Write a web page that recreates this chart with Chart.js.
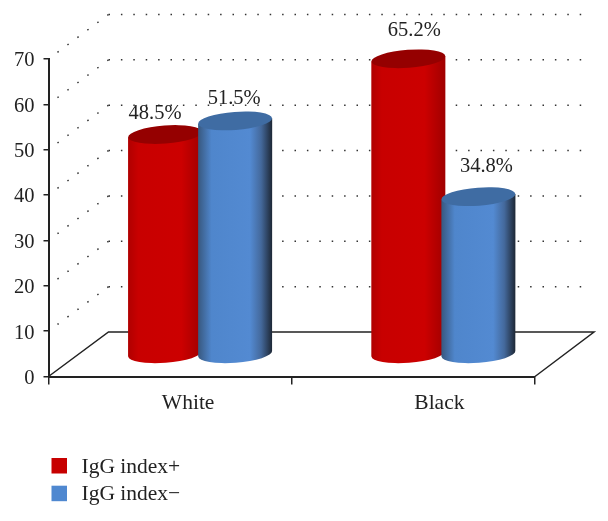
<!DOCTYPE html>
<html>
<head>
<meta charset="utf-8">
<style>
  html, body { margin: 0; padding: 0; background: #fff; }
  canvas { display: block; }
</style>
<script src="https://cdn.jsdelivr.net/npm/chart.js@4"></script>
</head>
<body>
<canvas id="chart" width="608" height="521"></canvas>
<script>
var categories = ["White", "Black"];
var seriesNames = ["IgG index+", "IgG index\u2212"];
var positiveValues = [48.5, 65.2];
var negativeValues = [51.5, 34.8];
var tickValues = [0, 10, 20, 30, 40, 50, 60, 70];

var FONT = "'Liberation Serif', serif";
var TEXT = "#222";
var DEPTH_X = 60, DEPTH_Y = 44.5;  // back wall offset
var BAR_X = 30, BAR_Y = 22;        // bars stand mid way on the floor
var RY = 9, TILT = -0.075;

var looks = [
  { swatch: "#c70000", top: "#950000", stops: [[0, "#b00000"], [0.14, "#c80000"], [0.72, "#cc0000"], [1, "#a00000"]] },
  { swatch: "#4f88d0", top: "#3f6ca3", stops: [[0, "#38587f"], [0.18, "#4f86cc"], [0.7, "#538ad2"], [0.85, "#44699c"], [1, "#1d2735"]] }
];
// label shift from the bar's top, [series][category]
var labelShift = [[[-10, -21], [6, -28]], [[-1, -22], [8, -30]]];
var xLabelShift = [18, 26];

function drawFrame(chart) {
  var c = chart.ctx, y = chart.scales.y, a = chart.chartArea;
  c.save();
  c.lineWidth = 1.5;
  c.strokeStyle = "#333";
  c.setLineDash([1.5, 10.9]);
  tickValues.forEach(function (v) {
    if (v === 0) return;
    var py = y.getPixelForValue(v);
    c.beginPath();
    c.moveTo(a.left + DEPTH_X, py - DEPTH_Y);
    c.lineTo(a.right + 52, py - DEPTH_Y);
    c.stroke();
    c.beginPath();
    c.moveTo(a.left + DEPTH_X, py - DEPTH_Y);
    c.lineTo(a.left + 8, py - 6);
    c.stroke();
  });
  c.setLineDash([]);
  // floor
  c.lineWidth = 1.5;
  c.strokeStyle = "#222";
  c.beginPath();
  c.moveTo(a.left, a.bottom);
  c.lineTo(a.left + DEPTH_X, a.bottom - DEPTH_Y);
  c.lineTo(a.right + DEPTH_X - 1, a.bottom - DEPTH_Y);
  c.lineTo(a.right, a.bottom);
  c.stroke();
  c.restore();
}

function drawCylinder(c, el, look) {
  var cx = el.x + BAR_X, top = el.y - BAR_Y, base = el.base - BAR_Y;
  var rx = el.width / 2;
  var g = c.createLinearGradient(cx - rx, 0, cx + rx, 0);
  look.stops.forEach(function (s) { g.addColorStop(s[0], s[1]); });
  var dy = Math.sin(TILT) * rx;
  c.beginPath();
  c.moveTo(cx - rx, top - dy);
  c.lineTo(cx - rx, base - dy);
  c.ellipse(cx, base, rx, RY, TILT, Math.PI, 0, true);
  c.lineTo(cx + rx, top + dy);
  c.closePath();
  c.fillStyle = g;
  c.fill();
  c.beginPath();
  c.ellipse(cx, top, rx, RY, TILT, 0, Math.PI * 2);
  c.fillStyle = look.top;
  c.fill();
}

var cylinders = {
  id: "cylinders",
  beforeDatasetsDraw: drawFrame,
  afterDatasetsDraw: function (chart) {
    var c = chart.ctx;
    c.save();
    chart.data.datasets.forEach(function (ds, i) {
      chart.getDatasetMeta(i).data.forEach(function (el) {
        drawCylinder(c, el, looks[i]);
      });
    });
    c.font = "20.5px " + FONT;
    c.fillStyle = TEXT;
    c.textAlign = "center";
    c.textBaseline = "middle";
    chart.data.datasets.forEach(function (ds, i) {
      chart.getDatasetMeta(i).data.forEach(function (el, j) {
        var s = labelShift[i][j];
        c.fillText(ds.data[j].toFixed(1) + "%", el.x + BAR_X + s[0], el.y - BAR_Y + s[1]);
      });
    });
    // category names sit off their ticks in the original
    c.font = "21.5px " + FONT;
    categories.forEach(function (name, j) {
      c.fillText(name, chart.scales.x.getPixelForValue(j) + xLabelShift[j], 403);
    });
    // legend
    c.textAlign = "left";
    seriesNames.forEach(function (name, i) {
      var ly = 466 + i * 27.7;
      c.fillStyle = looks[i].swatch;
      c.fillRect(51.5, ly - 8, 15.5, 15.5);
      c.fillStyle = TEXT;
      c.fillText(name, 81.5, ly + 1);
    });
    c.restore();
  }
};

var ctx = document.getElementById("chart").getContext("2d");
var chart = new Chart(ctx, {
  type: "bar",
  data: {
    labels: categories,
    datasets: [
      { label: seriesNames[0], data: positiveValues, backgroundColor: "transparent" },
      { label: seriesNames[1], data: negativeValues, backgroundColor: "transparent" }
    ]
  },
  options: {
    responsive: false,
    animation: false,
    layout: { padding: { top: 59, right: 73, left: 0, bottom: 0 } },
    datasets: { bar: { categoryPercentage: 0.576, barPercentage: 1.057 } },
    plugins: { legend: { display: false }, tooltip: { enabled: false } },
    scales: {
      x: {
        afterFit: function (s) { s.height = 144.5; },
        border: { color: "#222", width: 2 },
        grid: { drawOnChartArea: false, color: "#222", lineWidth: 1.5, tickLength: 8 },
        ticks: { display: false }
      },
      y: {
        min: 0,
        max: 70,
        afterFit: function (s) { s.width = 48.5; },
        afterBuildTicks: function (s) { s.ticks = tickValues.map(function (v) { return { value: v }; }); },
        border: { color: "#222", width: 2 },
        grid: { drawOnChartArea: false, color: "#222", lineWidth: 1.5, tickLength: 5 },
        ticks: { color: TEXT, padding: 9, labelOffset: 2, font: { family: FONT, size: 20.5 } }
      }
    }
  },
  plugins: [cylinders]
});
</script>
</body>
</html>
